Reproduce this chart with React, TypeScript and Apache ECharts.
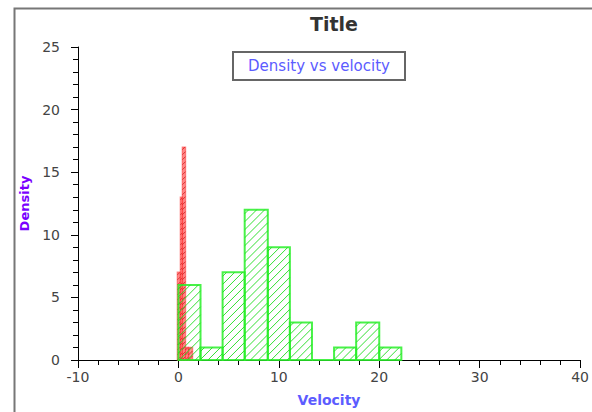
import React, { useEffect, useRef } from "react";
import * as echarts from "echarts";

const titleText = "Title";
const legendText = "Density vs velocity";
const xName = "Velocity";
const yName = "Density";

const greenEdges = [0, 2.2, 4.4, 6.6, 8.9, 11.1, 13.3, 15.5, 17.7, 20.0, 22.2];
const greenDensity = [6, 1, 7, 12, 9, 3, 0, 1, 3, 1];

const redEdges = [-0.1, 0.2, 0.4, 0.7, 1.0, 1.4];
const redDensity = [7, 13, 17, 1, 1];

function toBins(edges: number[], vals: number[]) {
  return vals.map((v, i) => [edges[i], edges[i + 1], v]);
}

function makeRender(stroke: string, fill: string, hatch: string, step: number, lw: number) {
  return (params: any, api: any) => {
    const x0v = api.value(0);
    const x1v = api.value(1);
    const h = api.value(2);
    const p0 = api.coord([x0v, 0]);
    const p1 = api.coord([x1v, h]);
    const x0 = Math.min(p0[0], p1[0]);
    const x1 = Math.max(p0[0], p1[0]);
    const y0 = Math.min(p0[1], p1[1]);
    const y1 = Math.max(p0[1], p1[1]);
    const children: any[] = [
      {
        type: "rect",
        shape: { x: x0, y: y0, width: x1 - x0, height: y1 - y0 },
        style: { fill, stroke, lineWidth: lw },
      },
    ];
    if (y1 - y0 > 1) {
      const cStart = x0 + y0;
      const cEnd = x1 + y1;
      for (let c = cStart + step / 2; c < cEnd; c += step) {
        const xa = Math.max(x0, c - y1);
        const xb = Math.min(x1, c - y0);
        if (xb > xa) {
          children.push({
            type: "line",
            shape: { x1: xa, y1: c - xa, x2: xb, y2: c - xb },
            style: { stroke: hatch, lineWidth: 1 },
          });
        }
      }
    }
    return { type: "group", children };
  };
}

export default function App() {
  const ref = useRef<HTMLDivElement>(null);
  useEffect(() => {
    if (!ref.current) return;
    const chart = echarts.init(ref.current, undefined, { renderer: "svg" });
    const labelStyle = { color: "#444", fontSize: 14, fontFamily: "DejaVu Sans" };
    chart.setOption({
      animation: false,
      backgroundColor: "#fff",
      grid: { left: 78, right: 10, top: 47, bottom: 52 },
      xAxis: {
        type: "value",
        min: -10,
        max: 40,
        interval: 10,
        name: xName,
        nameLocation: "middle",
        nameGap: 33,
        nameTextStyle: { color: "#5c5cff", fontWeight: "bold", fontSize: 14, fontFamily: "DejaVu Sans" },
        axisLine: { show: true, onZero: false, lineStyle: { color: "#000", width: 1 } },
        axisTick: { show: true, inside: false, length: 8, lineStyle: { color: "#000" } },
        minorTick: { show: true, splitNumber: 5, length: 5, lineStyle: { color: "#000" } },
        axisLabel: { ...labelStyle, margin: 10 },
        splitLine: { show: false },
      },
      yAxis: {
        type: "value",
        min: 0,
        max: 25,
        interval: 5,
        name: yName,
        nameLocation: "middle",
        nameGap: 41,
        nameTextStyle: { color: "#7a00ff", fontWeight: "bold", fontSize: 13, fontFamily: "DejaVu Sans" },
        axisLine: { show: true, onZero: false, lineStyle: { color: "#000", width: 1 } },
        axisTick: { show: true, inside: false, length: 7, lineStyle: { color: "#000" } },
        minorTick: { show: true, splitNumber: 5, length: 5, lineStyle: { color: "#000" } },
        axisLabel: { ...labelStyle, margin: 18 },
        splitLine: { show: false },
      },
      graphic: [
        {
          type: "rect",
          left: 12,
          top: 6,
          shape: { x: 0, y: 0, width: 600, height: 420 },
          style: { fill: "none", stroke: "#777", lineWidth: 2 },
          silent: true,
          z: -1,
        },
        {
          type: "text",
          x: 334,
          y: 24,
          style: {
            text: titleText,
            fill: "#333",
            fontSize: 19,
            fontWeight: "bold",
            fontFamily: "DejaVu Sans",
            align: "center",
            verticalAlign: "middle",
          },
        },
        {
          type: "group",
          left: 232,
          top: 51,
          children: [
            {
              type: "rect",
              shape: { x: 0, y: 0, width: 172, height: 28 },
              style: { fill: "#fff", stroke: "#666", lineWidth: 2 },
            },
            {
              type: "text",
              x: 86,
              y: 14,
              style: {
                text: legendText,
                fill: "#5c5cff",
                fontSize: 15,
                fontFamily: "DejaVu Sans",
                align: "center",
                verticalAlign: "middle",
              },
            },
          ],
        },
      ],
      series: [
        {
          type: "custom",
          name: "red",
          renderItem: makeRender("rgba(255,60,60,0.6)", "rgba(255,40,40,0.5)", "rgba(190,0,0,0.6)", 5, 1.5),
          encode: { x: [0, 1], y: 2 },
          data: toBins(redEdges, redDensity),
          z: 2,
        },
        {
          type: "custom",
          name: "green",
          renderItem: makeRender("rgba(40,240,40,0.85)", "rgba(255,255,255,0)", "rgba(30,220,30,0.9)", 8, 2),
          encode: { x: [0, 1], y: 2 },
          data: toBins(greenEdges, greenDensity),
          z: 3,
        },
      ],
    });
    return () => chart.dispose();
  }, []);
  return <div ref={ref} style={{ width: 592, height: 412, position: "absolute", left: 0, top: 0 }} />;
}
